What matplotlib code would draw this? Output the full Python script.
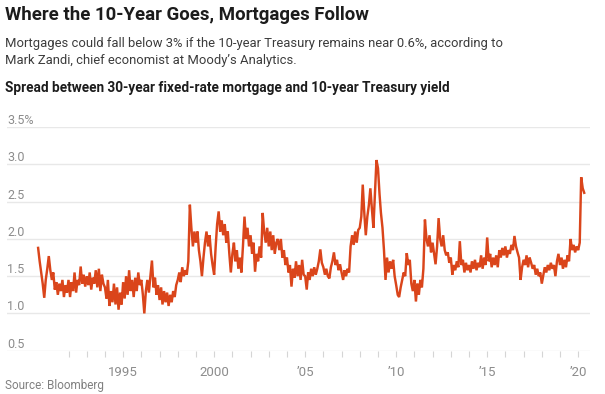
import pandas as pd
import matplotlib
matplotlib.use('Agg')
import matplotlib.pyplot as plt

"""
Spread between 30-year fixed-rate mortgage and 10-year Treasury yield,
monthly readings (May 1990 - May 2020), values read off the Bloomberg chart.
"""

start_month = '1990-05-01'

# percent, one row per calendar year (1990 starts in May, 2020 ends in May)
spread = [
    1.88, 1.70, 1.55, 1.40, 1.21, 1.45, 1.60, 1.77,                    # 1990
    1.58, 1.45, 1.55, 1.32, 1.42, 1.25, 1.40, 1.30, 1.45, 1.22, 1.38, 1.28,  # 1991
    1.45, 1.22, 1.42, 1.30, 1.55, 1.28, 1.45, 1.38, 1.63, 1.40, 1.52, 1.36,  # 1992
    1.50, 1.38, 1.55, 1.32, 1.48, 1.40, 1.58, 1.35, 1.60, 1.30, 1.52, 1.40,  # 1993
    1.35, 1.20, 1.45, 1.10, 1.30, 1.15, 1.40, 1.12, 1.35, 1.05, 1.28, 1.12,  # 1994
    1.42, 1.20, 1.50, 1.25, 1.58, 1.30, 1.45, 1.22, 1.48, 1.30, 1.55, 1.38,  # 1995
    1.45, 1.25, 1.00, 1.30, 1.45, 1.28, 1.50, 1.71, 1.35, 1.48, 1.25, 1.38,  # 1996
    1.18, 1.35, 1.12, 1.30, 1.15, 1.28, 1.10, 1.25, 1.15, 1.30, 1.22, 1.38,  # 1997
    1.45, 1.55, 1.42, 1.62, 1.50, 1.58, 1.52, 1.70, 2.46, 2.15, 1.90, 2.10,  # 1998
    1.95, 2.10, 1.85, 1.70, 1.50, 1.75, 1.95, 2.10, 1.90, 2.05, 1.80, 1.65,  # 1999
    1.52, 1.90, 2.20, 2.37, 2.10, 2.25, 2.05, 2.20, 1.95, 2.10, 1.80, 1.55,  # 2000
    1.80, 1.95, 1.70, 1.85, 1.60, 1.75, 1.55, 1.90, 2.30, 2.00, 2.15, 1.90,  # 2001
    2.05, 1.80, 1.95, 1.56, 1.80, 1.70, 1.90, 1.75, 2.35, 2.10, 1.95, 2.15,  # 2002
    1.90, 2.10, 1.85, 2.05, 1.80, 1.95, 2.00, 1.85, 2.00, 1.75, 1.85, 1.65,  # 2003
    1.75, 1.55, 1.65, 1.36, 1.60, 1.48, 1.70, 1.50, 1.65, 1.45, 1.72, 1.52,  # 2004
    1.50, 1.32, 1.55, 1.45, 1.60, 1.50, 1.62, 1.52, 1.60, 1.70, 1.86, 1.68,  # 2005
    1.62, 1.52, 1.60, 1.50, 1.47, 1.62, 1.70, 1.82, 1.65, 1.72, 1.58, 1.66,  # 2006
    1.55, 1.45, 1.58, 1.50, 1.60, 1.55, 1.90, 2.05, 1.92, 2.10, 1.95, 2.12,  # 2007
    2.15, 2.30, 2.73, 2.35, 2.05, 2.30, 2.45, 2.68, 2.40, 2.15, 2.60, 3.06,  # 2008
    2.95, 2.60, 2.35, 2.15, 1.85, 1.45, 1.75, 1.55, 1.70, 1.60, 1.72, 1.50,  # 2009
    1.38, 1.25, 1.22, 1.35, 1.45, 1.55, 1.50, 1.81, 1.65, 1.72, 1.40, 1.30,  # 2010
    1.45, 1.16, 1.40, 1.25, 1.45, 1.35, 1.60, 2.26, 2.00, 1.90, 2.05, 1.82,  # 2011
    1.95, 1.80, 1.66, 1.90, 2.28, 2.00, 1.90, 2.05, 1.85, 1.78, 1.82, 1.68,  # 2012
    1.75, 1.52, 1.65, 1.58, 1.70, 1.62, 1.97, 1.65, 1.72, 1.55, 1.68, 1.58,  # 2013
    1.65, 1.55, 1.70, 1.60, 1.72, 1.58, 1.68, 1.62, 1.78, 1.60, 1.75, 1.65,  # 2014
    2.02, 1.70, 1.80, 1.62, 1.75, 1.65, 1.78, 1.62, 1.85, 1.75, 1.88, 1.78,  # 2015
    1.90, 1.75, 1.85, 1.80, 1.92, 1.85, 2.04, 1.90, 1.82, 1.75, 1.45, 1.62,  # 2016
    1.72, 1.65, 1.78, 1.62, 1.75, 1.68, 1.60, 1.65, 1.52, 1.60, 1.50, 1.55,  # 2017
    1.40, 1.52, 1.62, 1.55, 1.65, 1.58, 1.68, 1.60, 1.65, 1.50, 1.70, 1.80,  # 2018
    1.65, 1.75, 1.60, 1.72, 1.62, 1.78, 1.70, 2.00, 1.85, 1.92, 1.82, 1.90,  # 2019
    1.85, 1.95, 2.83, 2.68, 2.62,                                      # 2020
]

y_ticks = [0.5, 1.0, 1.5, 2.0, 2.5, 3.0, 3.5]
y_labels = ['0.5', '1.0', '1.5', '2.0', '2.5', '3.0', '3.5%']
label_years = [1995, 2000, 2005, 2010, 2015, 2020]
x_labels = ['1995', '2000', '\u201905', '\u201910', '\u201915', '\u201920']
minor_years = list(range(1992, 2021))

LINE_COLOR = '#da451b'
GRID_COLOR = '#e8e8e8'
TICK_COLOR = '#8c8c8c'

plt.rcParams['font.family'] = ['Roboto', 'DejaVu Sans']

dates = pd.date_range(start_month, periods=len(spread), freq='MS')

fig = plt.figure(figsize=(6.05, 3.94), dpi=100)
ax = fig.add_axes([0.0116, 0.110, 0.9636, 0.567])

ax.plot(dates, spread, color=LINE_COLOR, linewidth=1.75, solid_joinstyle='miter')

ax.set_ylim(0.5, 3.5)
ax.set_xlim(pd.Timestamp('1988-08-15'), pd.Timestamp('2020-08-25'))

for v, lab in zip(y_ticks, y_labels):
    ax.axhline(v, color=GRID_COLOR, linewidth=1.0, zorder=0)
    ax.text(0.0, v, lab, transform=ax.get_yaxis_transform(), ha='left',
            va='bottom', fontsize=9, color=TICK_COLOR)
ax.set_yticks([])

ax.set_xticks([pd.Timestamp(f'{y}-01-01') for y in label_years])
ax.set_xticklabels(x_labels)
ax.set_xticks([pd.Timestamp(f'{y}-01-01') for y in minor_years], minor=True)
ax.tick_params(axis='x', which='both', length=4, width=0.8, color='#d5d5d5',
               labelsize=9.5, labelcolor=TICK_COLOR, pad=7)

for side in ['top', 'right', 'left', 'bottom']:
    ax.spines[side].set_visible(False)

fig.text(0.008, 0.985, 'Where the 10-Year Goes, Mortgages Follow',
         fontsize=13.4, fontweight='bold', color='#1c1c1c', va='top', ha='left')
fig.text(0.008, 0.905,
         'Mortgages could fall below 3% if the 10-year Treasury remains near 0.6%, according to\n'
         'Mark Zandi, chief economist at Moody\u2019s Analytics.',
         fontsize=9.4, color='#3c3c3c', va='top', ha='left', linespacing=1.35)
fig.text(0.008, 0.795,
         'Spread between 30-year fixed-rate mortgage and 10-year Treasury yield',
         fontsize=9.8, fontweight='bold', color='#1c1c1c', va='top', ha='left')
fig.text(0.008, 0.006, 'Source: Bloomberg', fontsize=8.5, color='#808080',
         va='bottom', ha='left')

fig.savefig('out.png', dpi=100)
